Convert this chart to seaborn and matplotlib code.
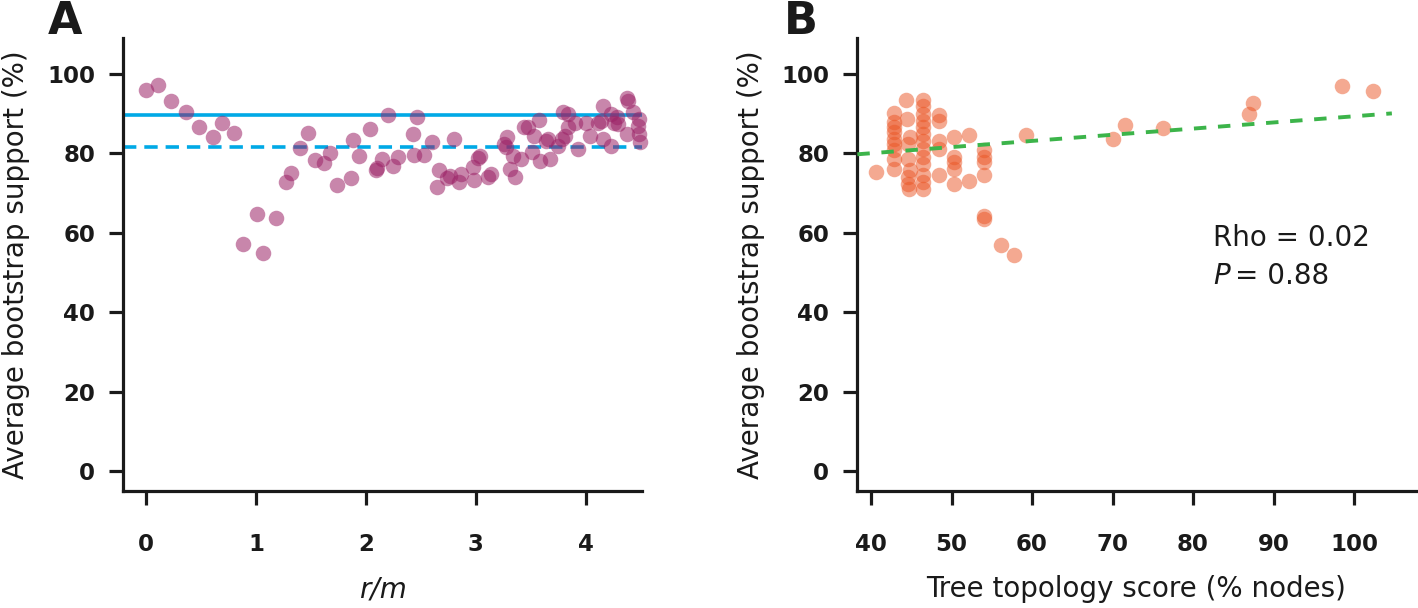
import numpy as np
import pandas as pd
import matplotlib
matplotlib.use("Agg")
import matplotlib.pyplot as plt
import seaborn as sns

#################################################################################################
#   Data
#################################################################################################
# Panel A : r/m against average bootstrap support
a_rm = [0.00, 0.11, 0.23, 0.36, 0.48, 0.61, 0.69, 0.80, 0.885, 1.01, 1.06, 1.18, 1.27, 1.32,
        1.40, 1.475, 1.54, 1.62, 1.67, 1.74, 1.86, 1.88, 1.94, 2.04, 2.09, 2.10, 2.145, 2.20,
        2.25, 2.29, 2.43, 2.46, 2.44, 2.53, 2.60, 2.65, 2.66, 2.74, 2.76, 2.80, 2.85, 2.86,
        2.97, 2.98, 3.02, 3.04, 3.11, 3.14, 3.26, 3.27, 3.28, 3.31, 3.34, 3.36, 3.41, 3.44,
        3.47, 3.51, 3.53, 3.575, 3.58, 3.64, 3.66, 3.67, 3.75, 3.78, 3.81, 3.79, 3.84, 3.84,
        3.90, 3.93, 4.00, 4.04, 4.11, 4.14, 4.16, 4.16, 4.23, 4.23, 4.26, 4.28, 4.29, 4.37,
        4.38, 4.37, 4.43, 4.48, 4.48, 4.49, 4.47]
a_support = [96.0, 97.2, 93.2, 90.3, 86.6, 84.1, 87.5, 85.2, 57.1, 64.7, 55.0, 63.8, 72.8, 75.0,
             81.4, 85.0, 78.3, 77.5, 80.1, 71.9, 73.7, 83.3, 79.3, 86.1, 75.8, 76.2, 78.5, 89.7,
             76.7, 79.0, 84.8, 89.2, 79.5, 79.5, 82.9, 71.4, 75.8, 73.7, 74.2, 83.5, 72.8, 74.9,
             76.6, 73.3, 78.9, 79.2, 73.9, 74.9, 82.3, 81.5, 84.0, 76.0, 79.3, 73.9, 78.5, 86.5,
             86.6, 80.2, 84.4, 88.3, 78.1, 83.1, 83.5, 78.5, 81.9, 83.5, 84.4, 90.3, 90.0, 86.5,
             87.7, 81.1, 87.7, 84.4, 87.7, 88.0, 91.9, 83.5, 89.8, 81.9, 87.7, 89.0, 87.3, 94.0,
             93.2, 84.9, 90.3, 88.5, 84.9, 82.8, 86.9]
a_solid_level = 89.5
a_dashed_level = 81.5

# Panel B : tree topology score against average bootstrap support
b_score = [40.6,
           42.8, 42.8, 42.8, 42.8, 42.8, 42.8, 42.8, 42.8, 42.8,
           44.4, 44.5, 44.8, 44.6, 44.6, 44.8, 44.6, 44.6, 44.7,
           46.5, 46.5, 46.5, 46.5, 46.5, 46.5, 46.5, 46.5, 46.5, 46.5, 46.5, 46.5, 46.5,
           48.4, 48.4, 48.4, 48.4, 48.4,
           50.3, 50.3, 50.3, 50.3, 50.3,
           52.2, 52.2,
           54.0, 54.0, 54.0, 54.0, 54.0, 54.0,
           56.1, 57.7, 59.3,
           70.0, 71.6, 76.3, 87.0, 87.5, 98.5, 102.3]
b_support = [75.2,
             90.2, 87.8, 86.6, 85.3, 83.6, 82.4, 80.7, 78.6, 76.1,
             93.5, 88.5, 84.0, 82.4, 78.6, 75.7, 74.0, 72.3, 71.1,
             93.5, 91.9, 89.9, 88.2, 86.6, 84.9, 83.2, 81.1, 79.0, 77.4, 74.4, 72.7, 71.1,
             89.5, 88.2, 83.2, 81.1, 74.4,
             84.2, 79.0, 77.8, 76.1, 72.3,
             84.5, 73.0,
             80.7, 79.0, 77.8, 74.6, 64.3, 63.5,
             56.8, 54.5, 84.7,
             83.6, 87.2, 86.3, 89.8, 92.7, 96.8, 95.6]
b_fit_intercept = 73.8
b_fit_slope = 0.155
b_fit_span = [38.3, 104.7]
b_rho = "Rho = 0.02"
b_p = "0.88"

#################################################################################################
#   Style
#################################################################################################
sns.set_theme(style="ticks")
plt.rcParams["font.family"] = ["DejaVu Sans"]

PURPLE = "#9c2367"
ORANGE = "#eb5524"
BLUE = "#00a9e6"
GREEN = "#3cb44a"
INK = "#1a1a1a"

fig = plt.figure(figsize=(14.18, 6.08), dpi=100)
axA = fig.add_axes([0.0867, 0.1924, 0.3660, 0.7451])
axB = fig.add_axes([0.6044, 0.1924, 0.3942, 0.7451])


def style_axis(ax):
    sns.despine(ax=ax)
    for side in ["left", "bottom"]:
        ax.spines[side].set_linewidth(2.3)
        ax.spines[side].set_color(INK)
    ax.tick_params(axis="both", length=10, width=2.3, color=INK, labelsize=16.5, labelcolor=INK)
    ax.tick_params(axis="x", pad=20)
    ax.tick_params(axis="y", pad=10)
    for lab in ax.get_xticklabels() + ax.get_yticklabels():
        lab.set_fontweight("bold")
    ax.set_ylim(-5, 109)
    ax.set_yticks([0, 20, 40, 60, 80, 100])
    ax.set_ylabel("Average bootstrap support (%)", fontsize=20, color=INK, labelpad=12)
    ax.grid(False)


#################################################################################################
#   Panel A
#################################################################################################
dfA = pd.DataFrame({"rm": a_rm, "support": a_support})
sns.scatterplot(data=dfA, x="rm", y="support", ax=axA, color=PURPLE, alpha=0.55,
                s=125, linewidth=0, zorder=3, clip_on=False)
axA.axhline(a_solid_level, color=BLUE, lw=2.6, zorder=2)
axA.axhline(a_dashed_level, color=BLUE, lw=2.6, ls=(0, (3.7, 2.2)), zorder=2)
axA.set_xlim(-0.21, 4.51)
axA.set_xticks([0, 1, 2, 3, 4])
axA.set_xlabel("r/m", fontsize=20, style="italic", color=INK, labelpad=14)
style_axis(axA)

#################################################################################################
#   Panel B
#################################################################################################
dfB = pd.DataFrame({"score": b_score, "support": b_support})
sns.scatterplot(data=dfB, x="score", y="support", ax=axB, color=ORANGE, alpha=0.5,
                s=125, linewidth=0, zorder=3)
fit_x = np.array(b_fit_span)
sns.lineplot(x=fit_x, y=b_fit_intercept + b_fit_slope * fit_x, ax=axB, color=GREEN,
             lw=2.8, dashes=False, zorder=4).lines[-1].set_linestyle((0, (3.2, 3.0)))
axB.set_xlim(38.26, 107.7)
axB.set_xticks([40, 50, 60, 70, 80, 90, 100])
axB.set_xlabel("Tree topology score (% nodes)", fontsize=20, color=INK, labelpad=14)
style_axis(axB)

axB.text(82.5, 58.6, b_rho, fontsize=20, color=INK, ha="left", va="center")
axB.text(82.5, 49.2, "P", fontsize=20, color=INK, ha="left", va="center", style="italic")
axB.text(85.2, 49.2, "= " + b_p, fontsize=20, color=INK, ha="left", va="center")

#################################################################################################
#   Panel letters
#################################################################################################
fig.text(0.034, 1.0, "A", fontsize=32, fontweight="heavy", color=INK, ha="left", va="top")
fig.text(0.553, 1.0, "B", fontsize=32, fontweight="heavy", color=INK, ha="left", va="top")

fig.savefig("out.png", dpi=100)
